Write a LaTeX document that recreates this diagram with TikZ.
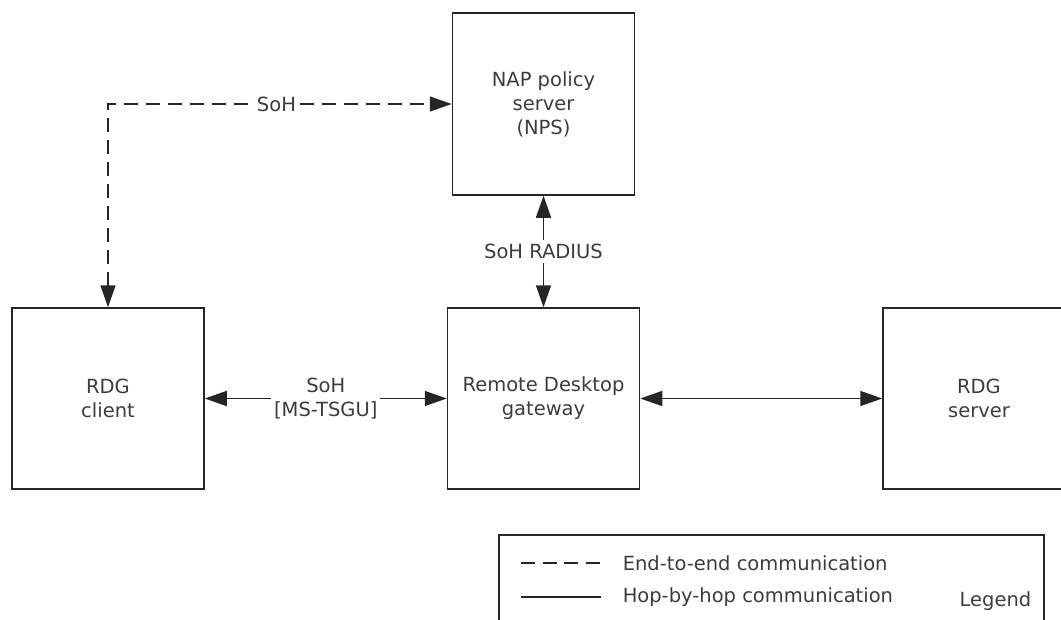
\documentclass[tikz,border=0pt]{standalone}
\usepackage{fontspec}
\setmainfont{DejaVu Sans}
\usetikzlibrary{arrows.meta}
\definecolor{ink}{HTML}{3C3C3C}
\definecolor{wire}{HTML}{262626}
\begin{document}
\begin{tikzpicture}[x=1pt, y=-1pt, line width=1.5pt, >={Triangle[length=22pt,width=15pt]}]
\tikzstyle{every node}=[text=ink, font=\fontsize{19.5}{24}\selectfont]
\tikzstyle{unit}=[draw=wire, minimum width=192pt, minimum height=181pt, align=center]
\tikzstyle{link}=[draw=wire, <->]
\tikzstyle{tag}=[fill=white, inner sep=3pt, align=center]
\useasboundingbox (0,0) rectangle (1061,619);
\clip (0,0) rectangle (1061,619);
  \foreach \place/\name/\lines in {{(108,398.5)/client/RDG\\client},
                                   {(543.5,398.5)/gw/Remote Desktop\\gateway},
                                   {(979,398.5)/server/RDG\\server}}
    \node[unit] (\name) at \place {\lines};
  \node[unit, minimum width=182pt, minimum height=182pt] (nps) at (543.5,104)
    {NAP policy\\server\\(NPS)};
  % connectors
  \draw[link] (client) -- node[tag] {SoH\\{[MS-TSGU]}} (gw);
  \draw[link] (gw) -- (server);
  \draw[link] (nps) -- node[tag, inner sep=4pt] {SoH RADIUS} (gw);
  \draw[link, dash pattern=on 14pt off 8pt] (client.north) |- node[tag, pos=0.745, inner sep=1pt] {SoH} (nps.west);
  % legend
  \node[draw=wire, minimum width=545pt, minimum height=140pt, anchor=north west] (legend) at (498,534) {};
  \coordinate (e1) at (521,563);
  \coordinate (e2) at (601,563);
  \coordinate (h1) at (521,597);
  \coordinate (h2) at (601,597);
  \draw[wire, dash pattern=on 14pt off 7.5pt] (e1) -- (e2);
  \draw[wire] (h1) -- (h2);
  \node[anchor=west, inner sep=0pt] (etext) at (622,563) {End-to-end communication};
  \node[anchor=west, inner sep=0pt] (htext) at (622,597) {Hop-by-hop communication};
  \node (legtitle) at (995.5,601) {Legend};
\end{tikzpicture}
\end{document}
